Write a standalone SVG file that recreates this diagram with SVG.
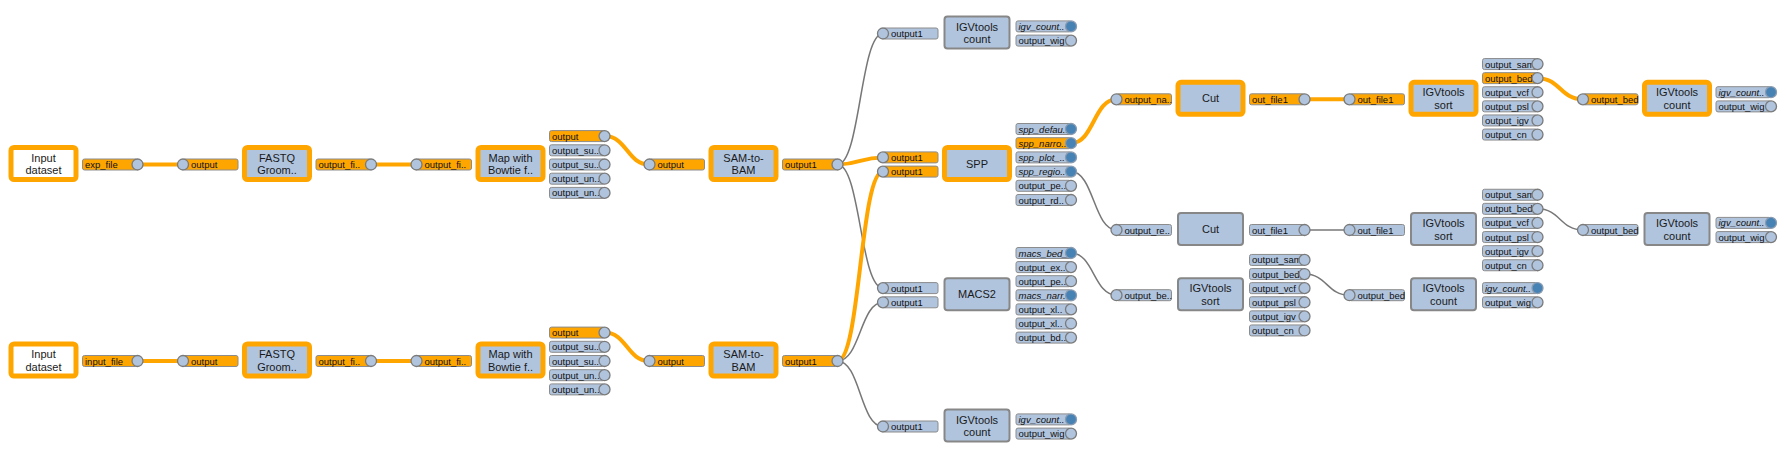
<svg xmlns="http://www.w3.org/2000/svg" width="1786" height="459" viewBox="0 0 1786 459">
<style>
.bg{fill:#fff}
.nb{fill:#b0c4de;stroke:#878787;stroke-width:2}
.hl{stroke:#ffa500;stroke-width:5}
.nw{fill:#fff;stroke:#ffa500;stroke-width:5}
.nt{font-family:"Liberation Sans",Arial,sans-serif;font-size:11px;fill:#1a1a1a;text-anchor:middle}
.pr{fill:#b0c4de;stroke:#8c8c8c;stroke-width:1}
.ph{fill:#ffa500;stroke:#8c8c8c;stroke-width:1}
.pc{fill:#b0c4de;stroke:#7a7a7a;stroke-width:1.3}
.wf{fill:#4682b4;stroke:#8a9bb0;stroke-width:1.3}
.pt{font-family:"Liberation Sans",Arial,sans-serif;font-size:9.5px;fill:#111}
.it{font-style:italic}
.c{fill:none;stroke:#777;stroke-width:1.5}
.ch{fill:none;stroke:#ffa500;stroke-width:4}
</style>
<rect class="bg" x="0" y="0" width="1786" height="459"/>
<g id="connectors">
<path class="c" d="M837.5,164.5 C860.25,164.5 860.25,33.5 883,33.5"/>
<path class="c" d="M837.5,164.5 C860.25,164.5 860.25,288.1 883,288.1"/>
<path class="c" d="M837.5,361 C860.25,361 860.25,302.3 883,302.3"/>
<path class="c" d="M837.5,361 C860.25,361 860.25,426.5 883,426.5"/>
<path class="c" d="M1071,171.6 C1093.75,171.6 1093.75,230 1116.5,230"/>
<path class="c" d="M1071,253 C1093.75,253 1093.75,295.2 1116.5,295.2"/>
<path class="c" d="M1304.5,230 L1349.5,230"/>
<path class="c" d="M1537.5,208.85 C1560.25,208.85 1560.25,230 1583,230"/>
<path class="c" d="M1304.5,274.05 C1327,274.05 1327,295.2 1349.5,295.2"/>
<path class="ch" d="M137.5,164.5 L183,164.5"/>
<path class="ch" d="M371,164.5 L416.5,164.5"/>
<path class="ch" d="M604.5,136.1 C627,136.1 627,164.5 649.5,164.5"/>
<path class="ch" d="M837.5,164.5 C860.25,164.5 860.25,157.4 883,157.4"/>
<path class="ch" d="M137.5,361 L183,361"/>
<path class="ch" d="M371,361 L416.5,361"/>
<path class="ch" d="M604.5,332.6 C627,332.6 627,361 649.5,361"/>
<path class="ch" d="M837.5,361 C860.25,361 860.25,171.6 883,171.6"/>
<path class="ch" d="M1071,143.2 C1093.75,143.2 1093.75,99.3 1116.5,99.3"/>
<path class="ch" d="M1304.5,99.3 L1349.5,99.3"/>
<path class="ch" d="M1537.5,78.15 C1560.25,78.15 1560.25,99.3 1583,99.3"/>
</g>

<g id="input1">
<rect class="nw" x="11" y="147.5" width="65" height="32" rx="3"/>
<text class="nt" x="43.5" y="161.5">Input</text><text class="nt" x="43.5" y="174">dataset</text>
<rect class="ph" x="82.5" y="159" width="55" height="11" rx="2"/><text class="pt" x="85" y="168">exp_file</text><circle class="pc" cx="137.5" cy="164.5" r="5.5"/>
</g>
<g id="fastq1">
<rect class="nb hl" x="244.5" y="147.5" width="65" height="32" rx="3"/>
<text class="nt" x="277" y="161.5">FASTQ</text><text class="nt" x="277" y="174">Groom..</text>
<rect class="ph" x="183" y="159" width="55" height="11" rx="2"/><text class="pt" x="191" y="168">output</text><circle class="pc" cx="183" cy="164.5" r="5.5"/>
<rect class="ph" x="316" y="159" width="55" height="11" rx="2"/><text class="pt" x="318.5" y="168">output_fi..</text><circle class="pc" cx="371" cy="164.5" r="5.5"/>
</g>
<g id="bowtie1">
<rect class="nb hl" x="478" y="147.5" width="65" height="32" rx="3"/>
<text class="nt" x="510.5" y="161.5">Map with</text><text class="nt" x="510.5" y="174">Bowtie f..</text>
<rect class="ph" x="416.5" y="159" width="55" height="11" rx="2"/><text class="pt" x="424.5" y="168">output_fi..</text><circle class="pc" cx="416.5" cy="164.5" r="5.5"/>
<rect class="ph" x="549.5" y="130.6" width="55" height="11" rx="2"/><text class="pt" x="552" y="139.6">output</text><circle class="pc" cx="604.5" cy="136.1" r="5.5"/>
<rect class="pr" x="549.5" y="144.8" width="55" height="11" rx="2"/><text class="pt" x="552" y="153.8">output_su..</text><circle class="pc" cx="604.5" cy="150.3" r="5.5"/>
<rect class="pr" x="549.5" y="159" width="55" height="11" rx="2"/><text class="pt" x="552" y="168">output_su..</text><circle class="pc" cx="604.5" cy="164.5" r="5.5"/>
<rect class="pr" x="549.5" y="173.2" width="55" height="11" rx="2"/><text class="pt" x="552" y="182.2">output_un..</text><circle class="pc" cx="604.5" cy="178.7" r="5.5"/>
<rect class="pr" x="549.5" y="187.4" width="55" height="11" rx="2"/><text class="pt" x="552" y="196.4">output_un..</text><circle class="pc" cx="604.5" cy="192.9" r="5.5"/>
</g>
<g id="sam1">
<rect class="nb hl" x="711" y="147.5" width="65" height="32" rx="3"/>
<text class="nt" x="743.5" y="161.5">SAM-to-</text><text class="nt" x="743.5" y="174">BAM</text>
<rect class="ph" x="649.5" y="159" width="55" height="11" rx="2"/><text class="pt" x="657.5" y="168">output</text><circle class="pc" cx="649.5" cy="164.5" r="5.5"/>
<rect class="ph" x="782.5" y="159" width="55" height="11" rx="2"/><text class="pt" x="785" y="168">output1</text><circle class="pc" cx="837.5" cy="164.5" r="5.5"/>
</g>

<g id="input2">
<rect class="nw" x="11" y="344" width="65" height="32" rx="3"/>
<text class="nt" x="43.5" y="358">Input</text><text class="nt" x="43.5" y="370.5">dataset</text>
<rect class="ph" x="82.5" y="355.5" width="55" height="11" rx="2"/><text class="pt" x="85" y="364.5">input_file</text><circle class="pc" cx="137.5" cy="361" r="5.5"/>
</g>
<g id="fastq2">
<rect class="nb hl" x="244.5" y="344" width="65" height="32" rx="3"/>
<text class="nt" x="277" y="358">FASTQ</text><text class="nt" x="277" y="370.5">Groom..</text>
<rect class="ph" x="183" y="355.5" width="55" height="11" rx="2"/><text class="pt" x="191" y="364.5">output</text><circle class="pc" cx="183" cy="361" r="5.5"/>
<rect class="ph" x="316" y="355.5" width="55" height="11" rx="2"/><text class="pt" x="318.5" y="364.5">output_fi..</text><circle class="pc" cx="371" cy="361" r="5.5"/>
</g>
<g id="bowtie2">
<rect class="nb hl" x="478" y="344" width="65" height="32" rx="3"/>
<text class="nt" x="510.5" y="358">Map with</text><text class="nt" x="510.5" y="370.5">Bowtie f..</text>
<rect class="ph" x="416.5" y="355.5" width="55" height="11" rx="2"/><text class="pt" x="424.5" y="364.5">output_fi..</text><circle class="pc" cx="416.5" cy="361" r="5.5"/>
<rect class="ph" x="549.5" y="327.1" width="55" height="11" rx="2"/><text class="pt" x="552" y="336.1">output</text><circle class="pc" cx="604.5" cy="332.6" r="5.5"/>
<rect class="pr" x="549.5" y="341.3" width="55" height="11" rx="2"/><text class="pt" x="552" y="350.3">output_su..</text><circle class="pc" cx="604.5" cy="346.8" r="5.5"/>
<rect class="pr" x="549.5" y="355.5" width="55" height="11" rx="2"/><text class="pt" x="552" y="364.5">output_su..</text><circle class="pc" cx="604.5" cy="361" r="5.5"/>
<rect class="pr" x="549.5" y="369.7" width="55" height="11" rx="2"/><text class="pt" x="552" y="378.7">output_un..</text><circle class="pc" cx="604.5" cy="375.2" r="5.5"/>
<rect class="pr" x="549.5" y="383.9" width="55" height="11" rx="2"/><text class="pt" x="552" y="392.9">output_un..</text><circle class="pc" cx="604.5" cy="389.4" r="5.5"/>
</g>
<g id="sam2">
<rect class="nb hl" x="711" y="344" width="65" height="32" rx="3"/>
<text class="nt" x="743.5" y="358">SAM-to-</text><text class="nt" x="743.5" y="370.5">BAM</text>
<rect class="ph" x="649.5" y="355.5" width="55" height="11" rx="2"/><text class="pt" x="657.5" y="364.5">output</text><circle class="pc" cx="649.5" cy="361" r="5.5"/>
<rect class="ph" x="782.5" y="355.5" width="55" height="11" rx="2"/><text class="pt" x="785" y="364.5">output1</text><circle class="pc" cx="837.5" cy="361" r="5.5"/>
</g>

<g id="igvcount_top">
<rect class="nb" x="944.5" y="16.5" width="65" height="32" rx="3"/>
<text class="nt" x="977" y="30.5">IGVtools</text><text class="nt" x="977" y="43">count</text>
<rect class="pr" x="883" y="28" width="55" height="11" rx="2"/><text class="pt" x="891" y="37">output1</text><circle class="pc" cx="883" cy="33.5" r="5.5"/>
<rect class="pr" x="1016" y="20.9" width="55" height="11" rx="2"/><text class="pt it" x="1018.5" y="29.9">igv_count..</text><circle class="wf" cx="1071" cy="26.4" r="5.5"/>
<rect class="pr" x="1016" y="35.1" width="55" height="11" rx="2"/><text class="pt" x="1018.5" y="44.1">output_wig</text><circle class="pc" cx="1071" cy="40.6" r="5.5"/>
</g>
<g id="spp">
<rect class="nb hl" x="944.5" y="147.5" width="65" height="32" rx="3"/>
<text class="nt" x="977" y="167.5">SPP</text>
<rect class="ph" x="883" y="151.9" width="55" height="11" rx="2"/><text class="pt" x="891" y="160.9">output1</text><circle class="pc" cx="883" cy="157.4" r="5.5"/>
<rect class="ph" x="883" y="166.1" width="55" height="11" rx="2"/><text class="pt" x="891" y="175.1">output1</text><circle class="pc" cx="883" cy="171.6" r="5.5"/>
<rect class="pr" x="1016" y="123.5" width="55" height="11" rx="2"/><text class="pt it" x="1018.5" y="132.5">spp_defau..</text><circle class="wf" cx="1071" cy="129" r="5.5"/>
<rect class="ph" x="1016" y="137.7" width="55" height="11" rx="2"/><text class="pt it" x="1018.5" y="146.7">spp_narro..</text><circle class="wf" cx="1071" cy="143.2" r="5.5"/>
<rect class="pr" x="1016" y="151.9" width="55" height="11" rx="2"/><text class="pt it" x="1018.5" y="160.9">spp_plot_..</text><circle class="wf" cx="1071" cy="157.4" r="5.5"/>
<rect class="pr" x="1016" y="166.1" width="55" height="11" rx="2"/><text class="pt it" x="1018.5" y="175.1">spp_regio..</text><circle class="wf" cx="1071" cy="171.6" r="5.5"/>
<rect class="pr" x="1016" y="180.3" width="55" height="11" rx="2"/><text class="pt" x="1018.5" y="189.3">output_pe..</text><circle class="pc" cx="1071" cy="185.8" r="5.5"/>
<rect class="pr" x="1016" y="194.5" width="55" height="11" rx="2"/><text class="pt" x="1018.5" y="203.5">output_rd..</text><circle class="pc" cx="1071" cy="200" r="5.5"/>
</g>
<g id="macs2">
<rect class="nb" x="944.5" y="278.2" width="65" height="32" rx="3"/>
<text class="nt" x="977" y="298.2">MACS2</text>
<rect class="pr" x="883" y="282.6" width="55" height="11" rx="2"/><text class="pt" x="891" y="291.6">output1</text><circle class="pc" cx="883" cy="288.1" r="5.5"/>
<rect class="pr" x="883" y="296.8" width="55" height="11" rx="2"/><text class="pt" x="891" y="305.8">output1</text><circle class="pc" cx="883" cy="302.3" r="5.5"/>
<rect class="pr" x="1016" y="247.5" width="55" height="11" rx="2"/><text class="pt it" x="1018.5" y="256.5">macs_bed_</text><circle class="wf" cx="1071" cy="253" r="5.5"/>
<rect class="pr" x="1016" y="261.6" width="55" height="11" rx="2"/><text class="pt" x="1018.5" y="270.6">output_ex..</text><circle class="pc" cx="1071" cy="267.1" r="5.5"/>
<rect class="pr" x="1016" y="275.7" width="55" height="11" rx="2"/><text class="pt" x="1018.5" y="284.7">output_pe..</text><circle class="pc" cx="1071" cy="281.2" r="5.5"/>
<rect class="pr" x="1016" y="289.8" width="55" height="11" rx="2"/><text class="pt it" x="1018.5" y="298.8">macs_narr..</text><circle class="wf" cx="1071" cy="295.3" r="5.5"/>
<rect class="pr" x="1016" y="303.9" width="55" height="11" rx="2"/><text class="pt" x="1018.5" y="312.9">output_xl..</text><circle class="pc" cx="1071" cy="309.4" r="5.5"/>
<rect class="pr" x="1016" y="318" width="55" height="11" rx="2"/><text class="pt" x="1018.5" y="327">output_xl..</text><circle class="pc" cx="1071" cy="323.5" r="5.5"/>
<rect class="pr" x="1016" y="332.1" width="55" height="11" rx="2"/><text class="pt" x="1018.5" y="341.1">output_bd..</text><circle class="pc" cx="1071" cy="337.6" r="5.5"/>
</g>
<g id="igvcount_bottom">
<rect class="nb" x="944.5" y="409.5" width="65" height="32" rx="3"/>
<text class="nt" x="977" y="423.5">IGVtools</text><text class="nt" x="977" y="436">count</text>
<rect class="pr" x="883" y="421" width="55" height="11" rx="2"/><text class="pt" x="891" y="430">output1</text><circle class="pc" cx="883" cy="426.5" r="5.5"/>
<rect class="pr" x="1016" y="413.9" width="55" height="11" rx="2"/><text class="pt it" x="1018.5" y="422.9">igv_count..</text><circle class="wf" cx="1071" cy="419.4" r="5.5"/>
<rect class="pr" x="1016" y="428.1" width="55" height="11" rx="2"/><text class="pt" x="1018.5" y="437.1">output_wig</text><circle class="pc" cx="1071" cy="433.6" r="5.5"/>
</g>

<g id="cut_top">
<rect class="nb hl" x="1178" y="82.3" width="65" height="32" rx="3"/>
<text class="nt" x="1210.5" y="102.3">Cut</text>
<rect class="ph" x="1116.5" y="93.8" width="55" height="11" rx="2"/><text class="pt" x="1124.5" y="102.8">output_na..</text><circle class="pc" cx="1116.5" cy="99.3" r="5.5"/>
<rect class="ph" x="1249.5" y="93.8" width="55" height="11" rx="2"/><text class="pt" x="1252" y="102.8">out_file1</text><circle class="pc" cx="1304.5" cy="99.3" r="5.5"/>
</g>
<g id="sort_top">
<rect class="nb hl" x="1411" y="82.3" width="65" height="32" rx="3"/>
<text class="nt" x="1443.5" y="96.3">IGVtools</text><text class="nt" x="1443.5" y="108.8">sort</text>
<rect class="ph" x="1349.5" y="93.8" width="55" height="11" rx="2"/><text class="pt" x="1357.5" y="102.8">out_file1</text><circle class="pc" cx="1349.5" cy="99.3" r="5.5"/>
<rect class="pr" x="1482.5" y="58.55" width="55" height="11" rx="2"/><text class="pt" x="1485" y="67.55">output_sam</text><circle class="pc" cx="1537.5" cy="64.05" r="5.5"/>
<rect class="ph" x="1482.5" y="72.65" width="55" height="11" rx="2"/><text class="pt" x="1485" y="81.65">output_bed</text><circle class="pc" cx="1537.5" cy="78.15" r="5.5"/>
<rect class="pr" x="1482.5" y="86.75" width="55" height="11" rx="2"/><text class="pt" x="1485" y="95.75">output_vcf</text><circle class="pc" cx="1537.5" cy="92.25" r="5.5"/>
<rect class="pr" x="1482.5" y="100.85" width="55" height="11" rx="2"/><text class="pt" x="1485" y="109.85">output_psl</text><circle class="pc" cx="1537.5" cy="106.35" r="5.5"/>
<rect class="pr" x="1482.5" y="114.95" width="55" height="11" rx="2"/><text class="pt" x="1485" y="123.95">output_igv</text><circle class="pc" cx="1537.5" cy="120.45" r="5.5"/>
<rect class="pr" x="1482.5" y="129.05" width="55" height="11" rx="2"/><text class="pt" x="1485" y="138.05">output_cn</text><circle class="pc" cx="1537.5" cy="134.55" r="5.5"/>
</g>
<g id="count_top">
<rect class="nb hl" x="1644.5" y="82.3" width="65" height="32" rx="3"/>
<text class="nt" x="1677" y="96.3">IGVtools</text><text class="nt" x="1677" y="108.8">count</text>
<rect class="ph" x="1583" y="93.8" width="55" height="11" rx="2"/><text class="pt" x="1591" y="102.8">output_bed</text><circle class="pc" cx="1583" cy="99.3" r="5.5"/>
<rect class="pr" x="1716" y="86.7" width="55" height="11" rx="2"/><text class="pt it" x="1718.5" y="95.7">igv_count..</text><circle class="wf" cx="1771" cy="92.2" r="5.5"/>
<rect class="pr" x="1716" y="100.9" width="55" height="11" rx="2"/><text class="pt" x="1718.5" y="109.9">output_wig</text><circle class="pc" cx="1771" cy="106.4" r="5.5"/>
</g>

<g id="cut_mid">
<rect class="nb" x="1178" y="213" width="65" height="32" rx="3"/>
<text class="nt" x="1210.5" y="233">Cut</text>
<rect class="pr" x="1116.5" y="224.5" width="55" height="11" rx="2"/><text class="pt" x="1124.5" y="233.5">output_re..</text><circle class="pc" cx="1116.5" cy="230" r="5.5"/>
<rect class="pr" x="1249.5" y="224.5" width="55" height="11" rx="2"/><text class="pt" x="1252" y="233.5">out_file1</text><circle class="pc" cx="1304.5" cy="230" r="5.5"/>
</g>
<g id="sort_mid">
<rect class="nb" x="1411" y="213" width="65" height="32" rx="3"/>
<text class="nt" x="1443.5" y="227">IGVtools</text><text class="nt" x="1443.5" y="239.5">sort</text>
<rect class="pr" x="1349.5" y="224.5" width="55" height="11" rx="2"/><text class="pt" x="1357.5" y="233.5">out_file1</text><circle class="pc" cx="1349.5" cy="230" r="5.5"/>
<rect class="pr" x="1482.5" y="189.25" width="55" height="11" rx="2"/><text class="pt" x="1485" y="198.25">output_sam</text><circle class="pc" cx="1537.5" cy="194.75" r="5.5"/>
<rect class="pr" x="1482.5" y="203.35" width="55" height="11" rx="2"/><text class="pt" x="1485" y="212.35">output_bed</text><circle class="pc" cx="1537.5" cy="208.85" r="5.5"/>
<rect class="pr" x="1482.5" y="217.45" width="55" height="11" rx="2"/><text class="pt" x="1485" y="226.45">output_vcf</text><circle class="pc" cx="1537.5" cy="222.95" r="5.5"/>
<rect class="pr" x="1482.5" y="231.55" width="55" height="11" rx="2"/><text class="pt" x="1485" y="240.55">output_psl</text><circle class="pc" cx="1537.5" cy="237.05" r="5.5"/>
<rect class="pr" x="1482.5" y="245.65" width="55" height="11" rx="2"/><text class="pt" x="1485" y="254.65">output_igv</text><circle class="pc" cx="1537.5" cy="251.15" r="5.5"/>
<rect class="pr" x="1482.5" y="259.75" width="55" height="11" rx="2"/><text class="pt" x="1485" y="268.75">output_cn</text><circle class="pc" cx="1537.5" cy="265.25" r="5.5"/>
</g>
<g id="count_mid">
<rect class="nb" x="1644.5" y="213" width="65" height="32" rx="3"/>
<text class="nt" x="1677" y="227">IGVtools</text><text class="nt" x="1677" y="239.5">count</text>
<rect class="pr" x="1583" y="224.5" width="55" height="11" rx="2"/><text class="pt" x="1591" y="233.5">output_bed</text><circle class="pc" cx="1583" cy="230" r="5.5"/>
<rect class="pr" x="1716" y="217.4" width="55" height="11" rx="2"/><text class="pt it" x="1718.5" y="226.4">igv_count..</text><circle class="wf" cx="1771" cy="222.9" r="5.5"/>
<rect class="pr" x="1716" y="231.6" width="55" height="11" rx="2"/><text class="pt" x="1718.5" y="240.6">output_wig</text><circle class="pc" cx="1771" cy="237.1" r="5.5"/>
</g>

<g id="sort_low">
<rect class="nb" x="1178" y="278.2" width="65" height="32" rx="3"/>
<text class="nt" x="1210.5" y="292.2">IGVtools</text><text class="nt" x="1210.5" y="304.7">sort</text>
<rect class="pr" x="1116.5" y="289.7" width="55" height="11" rx="2"/><text class="pt" x="1124.5" y="298.7">output_be..</text><circle class="pc" cx="1116.5" cy="295.2" r="5.5"/>
<rect class="pr" x="1249.5" y="254.45" width="55" height="11" rx="2"/><text class="pt" x="1252" y="263.45">output_sam</text><circle class="pc" cx="1304.5" cy="259.95" r="5.5"/>
<rect class="pr" x="1249.5" y="268.55" width="55" height="11" rx="2"/><text class="pt" x="1252" y="277.55">output_bed</text><circle class="pc" cx="1304.5" cy="274.05" r="5.5"/>
<rect class="pr" x="1249.5" y="282.65" width="55" height="11" rx="2"/><text class="pt" x="1252" y="291.65">output_vcf</text><circle class="pc" cx="1304.5" cy="288.15" r="5.5"/>
<rect class="pr" x="1249.5" y="296.75" width="55" height="11" rx="2"/><text class="pt" x="1252" y="305.75">output_psl</text><circle class="pc" cx="1304.5" cy="302.25" r="5.5"/>
<rect class="pr" x="1249.5" y="310.85" width="55" height="11" rx="2"/><text class="pt" x="1252" y="319.85">output_igv</text><circle class="pc" cx="1304.5" cy="316.35" r="5.5"/>
<rect class="pr" x="1249.5" y="324.95" width="55" height="11" rx="2"/><text class="pt" x="1252" y="333.95">output_cn</text><circle class="pc" cx="1304.5" cy="330.45" r="5.5"/>
</g>
<g id="count_low">
<rect class="nb" x="1411" y="278.2" width="65" height="32" rx="3"/>
<text class="nt" x="1443.5" y="292.2">IGVtools</text><text class="nt" x="1443.5" y="304.7">count</text>
<rect class="pr" x="1349.5" y="289.7" width="55" height="11" rx="2"/><text class="pt" x="1357.5" y="298.7">output_bed</text><circle class="pc" cx="1349.5" cy="295.2" r="5.5"/>
<rect class="pr" x="1482.5" y="282.6" width="55" height="11" rx="2"/><text class="pt it" x="1485" y="291.6">igv_count..</text><circle class="wf" cx="1537.5" cy="288.1" r="5.5"/>
<rect class="pr" x="1482.5" y="296.8" width="55" height="11" rx="2"/><text class="pt" x="1485" y="305.8">output_wig</text><circle class="pc" cx="1537.5" cy="302.3" r="5.5"/>
</g>
</svg>
